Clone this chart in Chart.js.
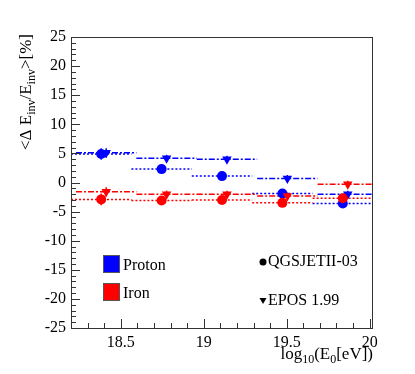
<!DOCTYPE html>
<html>
<head>
<meta charset="utf-8">
<script src="https://cdn.jsdelivr.net/npm/chart.js@4"></script>
<style>
  html, body { margin: 0; padding: 0; background: #fff; }
  #wrap { width: 415px; height: 374px; }
</style>
</head>
<body>
<div id="wrap"><canvas id="chart" width="415" height="374"></canvas></div>
<script>
// bin edges in log10(E0/eV), EPOS points drawn slightly shifted
const binEdges = [18.2, 18.564, 18.928, 19.292, 19.656, 20.02];
const eposShift = 0.03;

const protonQgs = [4.9, 2.3, 1.1, -1.9, -3.6];
const protonEpos = [5.1, 4.15, 4.0, 0.7, -2.0];
const ironQgs = [-2.9, -3.1, -3.0, -3.5, -2.7];
const ironEpos = [-1.6, -2.0, -2.0, -2.3, -0.3];

const protonQgsErr = [1.0, 0.6, 0.6, 0.6, 0.6];
const protonEposErr = [0.8, 0.6, 0.6, 0.6, 0.6];
const ironQgsErr = [1.0, 0.6, 0.6, 0.6, 0.6];
const ironEposErr = [0.8, 0.6, 0.6, 0.6, 0.6];

const xTicks = [18.5, 19, 19.5, 20];
const yTicks = [-25, -20, -15, -10, -5, 0, 5, 10, 15, 20, 25];

const BLUE = '#0000ff';
const RED = '#ff0000';
const FONT = "'Liberation Serif', 'DejaVu Serif', serif";

function centers(shift) {
    return binEdges.slice(0, -1).map((lo, i) => (lo + binEdges[i + 1]) / 2 + shift);
}

function points(vals, shift) {
    const xs = centers(shift);
    return vals.map((v, i) => ({ x: xs[i], y: v }));
}

// horizontal bin segments, broken by null gaps
function segments(vals, shift) {
    const out = [];
    vals.forEach((v, i) => {
        out.push({ x: binEdges[i] + shift, y: v });
        out.push({ x: binEdges[i + 1] + shift, y: v });
        out.push({ x: binEdges[i + 1] + shift, y: null });
    });
    return out;
}

function markerSet(vals, errs, shift, color, style, radius) {
    return {
        type: 'scatter',
        data: points(vals, shift),
        errs: errs,
        backgroundColor: color,
        borderColor: color,
        pointStyle: style,
        pointRadius: radius,
        pointRotation: style === 'triangle' ? 180 : 0,
        borderWidth: 0,
        showLine: false
    };
}

function lineSet(vals, shift, color, dash) {
    return {
        type: 'line',
        data: segments(vals, shift),
        borderColor: color,
        borderWidth: 1.5,
        borderDash: dash,
        pointRadius: 0,
        spanGaps: false,
        fill: false
    };
}

const DOTTED = [2, 2];
const DASHDOT = [6, 2, 2, 2];

// draws error bars, frame, inner ticks, titles and legend, ROOT style
const decor = {
    id: 'decor',
    beforeDatasetsDraw(chart) {
        const ctx = chart.ctx;
        const xs = chart.scales.x, ys = chart.scales.y;
        ctx.save();
        chart.data.datasets.forEach(ds => {
            if (!ds.errs) return;
            ctx.strokeStyle = ds.borderColor;
            ctx.lineWidth = 1.5;
            ds.data.forEach((p, i) => {
                const px = xs.getPixelForValue(p.x);
                ctx.beginPath();
                ctx.moveTo(px, ys.getPixelForValue(p.y - ds.errs[i]));
                ctx.lineTo(px, ys.getPixelForValue(p.y + ds.errs[i]));
                ctx.stroke();
            });
        });
        ctx.restore();
    },
    afterDraw(chart) {
        const ctx = chart.ctx;
        const a = chart.chartArea;
        const xs = chart.scales.x, ys = chart.scales.y;
        ctx.save();

        // frame
        ctx.strokeStyle = '#333';
        ctx.lineWidth = 1;
        ctx.strokeRect(a.left + 0.5, a.top + 0.5, a.right - a.left - 1, a.bottom - a.top);

        // y ticks (inside, left)
        ctx.beginPath();
        for (let v = -25; v <= 25; v += 1) {
            const py = Math.round(ys.getPixelForValue(v)) + 0.5;
            const len = v % 5 === 0 ? 9 : 5;
            ctx.moveTo(a.left, py);
            ctx.lineTo(a.left + len, py);
        }
        // x ticks (inside, bottom)
        for (let k = 183; k <= 200; k++) {
            const v = k / 10;
            const px = Math.round(xs.getPixelForValue(v)) + 0.5;
            const len = k % 5 === 0 ? 9 : 5;
            ctx.moveTo(px, a.bottom);
            ctx.lineTo(px, a.bottom - len);
        }
        ctx.stroke();

        ctx.fillStyle = '#000';
        ctx.textBaseline = 'alphabetic';

        // y title, rotated, right-aligned at the top of the axis
        const yParts = [['<\u0394 E', 17, 0], ['inv', 12, 4], ['/E', 17, 0], ['inv', 12, 4], ['>[%]', 17, 0]];
        ctx.save();
        ctx.translate(31, a.top - 3);
        ctx.rotate(-Math.PI / 2);
        let total = 0;
        yParts.forEach(p => { ctx.font = p[1] + 'px ' + FONT; total += ctx.measureText(p[0]).width; });
        let cx = -total;
        yParts.forEach(p => {
            ctx.font = p[1] + 'px ' + FONT;
            ctx.fillText(p[0], cx, p[2]);
            cx += ctx.measureText(p[0]).width;
        });
        ctx.restore();

        // x title, right-aligned at the end of the axis
        const xParts = [['log', 17, 0], ['10', 12, 4], ['(E', 17, 0], ['0', 12, 4], ['[eV])', 17, 0]];
        total = 0;
        xParts.forEach(p => { ctx.font = p[1] + 'px ' + FONT; total += ctx.measureText(p[0]).width; });
        cx = a.right - total;
        xParts.forEach(p => {
            ctx.font = p[1] + 'px ' + FONT;
            ctx.fillText(p[0], cx, 359 + p[2]);
            cx += ctx.measureText(p[0]).width;
        });

        // legend: composition boxes
        ctx.font = '16px ' + FONT;
        ctx.textBaseline = 'middle';
        [[BLUE, 'Proton', 255], [RED, 'Iron', 283]].forEach(([c, t, y]) => {
            ctx.fillStyle = c;
            ctx.fillRect(103, y, 17, 18);
            ctx.strokeStyle = '#555';
            ctx.strokeRect(103.5, y + 0.5, 16, 17);
            ctx.fillStyle = '#000';
            ctx.fillText(t, 123, y + 11);
        });

        // legend: models
        ctx.beginPath();
        ctx.arc(263, 262, 3.5, 0, Math.PI * 2);
        ctx.fill();
        ctx.fillText('QGSJETII-03', 268, 262);
        ctx.beginPath();
        ctx.moveTo(259.5, 298);
        ctx.lineTo(266.5, 298);
        ctx.lineTo(263, 304);
        ctx.closePath();
        ctx.fill();
        ctx.fillText('EPOS 1.99', 268, 301);

        ctx.restore();
    }
};

new Chart(document.getElementById('chart'), {
    type: 'scatter',
    data: {
        datasets: [
            markerSet(ironQgs, ironQgsErr, 0, RED, 'circle', 5),
            markerSet(ironEpos, ironEposErr, eposShift, RED, 'triangle', 5.5),
            markerSet(protonQgs, protonQgsErr, 0, BLUE, 'circle', 5),
            markerSet(protonEpos, protonEposErr, eposShift, BLUE, 'triangle', 5.5),
            lineSet(ironQgs, 0, RED, DOTTED),
            lineSet(ironEpos, eposShift, RED, DASHDOT),
            lineSet(protonQgs, 0, BLUE, DOTTED),
            lineSet(protonEpos, eposShift, BLUE, DASHDOT)
        ]
    },
    options: {
        responsive: false,
        animation: false,
        events: [],
        layout: { padding: { top: 37, right: 42, left: 0, bottom: 0 } },
        plugins: { legend: { display: false }, tooltip: { enabled: false } },
        scales: {
            x: {
                type: 'linear',
                min: binEdges[0],
                max: binEdges[binEdges.length - 1],
                grid: { display: false, drawTicks: false },
                border: { display: false },
                afterBuildTicks: s => { s.ticks = xTicks.map(v => ({ value: v })); },
                afterFit: s => { s.height = 46; },
                ticks: {
                    padding: 5,
                    maxRotation: 0,
                    color: '#000',
                    font: { family: FONT, size: 16 },
                    callback: v => String(v)
                }
            },
            y: {
                type: 'linear',
                min: -25,
                max: 25,
                grid: { display: false, drawTicks: false },
                border: { display: false },
                afterBuildTicks: s => { s.ticks = yTicks.map(v => ({ value: v })); },
                afterFit: s => { s.width = 71; },
                ticks: {
                    padding: 5,
                    color: '#000',
                    font: { family: FONT, size: 16 },
                    callback: v => String(v)
                }
            }
        }
    },
    plugins: [decor]
});
</script>
</body>
</html>
